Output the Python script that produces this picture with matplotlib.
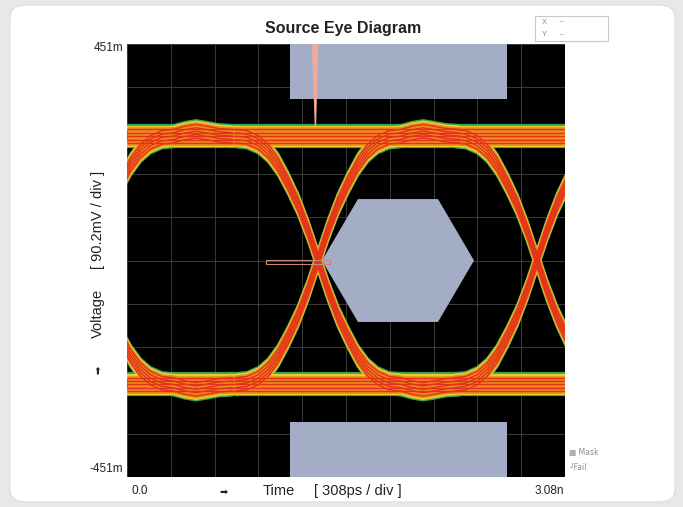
import numpy as np
import matplotlib
matplotlib.use("Agg")
import matplotlib.pyplot as plt
from matplotlib.patches import Polygon, Rectangle, FancyBboxPatch

plt.rcParams['font.family'] = ['Liberation Sans', 'DejaVu Sans']

# ---------------- data ----------------
title = "Source Eye Diagram"
t_min, t_max = 0.0, 3.08          # ns
v_min, v_max = -451.0, 451.0      # mV
n_div = 10
x_tick_labels = ["0.0", "3.08n"]
y_tick_labels = ["451m", "-451m"]
x_label = ["Time", "[ 308ps / div ]"]
y_label = ["Voltage", "[ 90.2mV / div ]"]

level_high = 259.0                # mV
level_low = -258.0                # mV
crossings = [-0.255, 1.343, 2.883]  # ns

# rising edge profile (time from crossing in ns, normalised level)
edge_dt = [-0.58, -0.50, -0.42, -0.35, -0.28, -0.21, -0.14, -0.07, 0.0,
           0.07, 0.14, 0.21, 0.28, 0.35, 0.42, 0.50, 0.58, 0.66, 0.74, 0.82, 0.90, 1.00]
edge_val = [-1.0, -0.99, -0.95, -0.88, -0.77, -0.62, -0.45, -0.24, 0.0,
            0.24, 0.45, 0.62, 0.77, 0.88, 0.95, 0.99, 1.0, 1.025, 1.04, 1.025, 1.008, 1.0]

# mask regions
mask_top_x = [1.146, 2.670]
mask_top_y = [336.0, 451.0]
mask_bot_x = [1.146, 2.670]
mask_bot_y = [-451.0, -336.0]
hex_x = [1.371, 1.624, 2.187, 2.440, 2.187, 1.624]
hex_y = [0.0, 128.0, 128.0, 0.0, -128.0, -128.0]

# histogram spike and window
spike_x = [1.300, 1.345, 1.330, 1.320]
spike_y = [451.0, 451.0, 280.0, 280.0]
window_x = [0.977, 1.430]
window_y = [-7.0, 1.0]

# trace band layers: offsets in mV
band_green = [-23, -21, -19, 19, 21, 23]
band_yellow = [-20, -18, -16, -14, 14, 16, 18, 20]
band_orange = [-16, -13, -10, -7, -4, -1, 2, 5, 8, 11, 14, 16]
band_red = [-14, -7, 0.0, 7, 14]

# ---------------- figure ----------------
W, H = 683, 507
fig = plt.figure(figsize=(W / 100, H / 100), dpi=100)
fig.patch.set_facecolor('#e8e8e8')
card = FancyBboxPatch((10 / W, 5 / H), 665 / W, 497 / H,
                      boxstyle="round,pad=0,rounding_size=0.025",
                      transform=fig.transFigure, facecolor='white',
                      edgecolor='#dcdcdc', linewidth=0.8, zorder=-10)
fig.patches.append(card)

ax = fig.add_axes([127 / W, 1 - 477 / H, 438 / W, 433 / H])
ax.set_zorder(5)
ax.set_facecolor('black')
ax.set_xlim(t_min, t_max)
ax.set_ylim(v_min, v_max)
ax.set_xticks(np.linspace(t_min, t_max, n_div + 1))
ax.set_yticks(np.linspace(v_min, v_max, n_div + 1))
ax.tick_params(length=0, labelbottom=False, labelleft=False)
ax.grid(True, color='#444444', linewidth=0.6)
ax.set_axisbelow(True)
for s in ax.spines.values():
    s.set_visible(False)

# masks
mask_col = '#a3aec6'
ax.add_patch(Rectangle((mask_top_x[0], mask_top_y[0]), mask_top_x[1] - mask_top_x[0],
                       mask_top_y[1] - mask_top_y[0], facecolor=mask_col, edgecolor='none', zorder=2))
ax.add_patch(Rectangle((mask_bot_x[0], mask_bot_y[0]), mask_bot_x[1] - mask_bot_x[0],
                       mask_bot_y[1] - mask_bot_y[0], facecolor=mask_col, edgecolor='none', zorder=2))
ax.add_patch(Polygon(np.column_stack([hex_x, hex_y]), closed=True,
                     facecolor=mask_col, edgecolor='none', zorder=2))

# traces
edt = np.array(edge_dt)
ev = np.array(edge_val)
mid = (level_high + level_low) / 2
amp = (level_high - level_low) / 2
curves = [(np.array([t_min, t_max]), np.array([level_high, level_high])),
          (np.array([t_min, t_max]), np.array([level_low, level_low]))]
for xc in crossings:
    curves.append((xc + edt, mid + amp * ev))
    curves.append((xc + edt, mid - amp * ev))

layers = [(band_green, '#3d9e55', 1.6),
          (band_yellow, '#e2d02a', 1.6),
          (band_orange, '#f08a1e', 1.8),
          (band_red, '#e2321a', 1.0)]
z = 3
for offs, col, lw in layers:
    o = np.array(offs, dtype=float)
    for x, y in curves:
        ax.plot(x, y[:, None] + o[None, :], color=col, lw=lw, zorder=z,
                solid_capstyle='butt')
    z += 0.1

# spike and window
ax.add_patch(Polygon(np.column_stack([spike_x, spike_y]), closed=True,
                     facecolor='#f4a898', edgecolor='none', zorder=4))
ax.add_patch(Rectangle((window_x[0], window_y[0]), window_x[1] - window_x[0],
                       window_y[1] - window_y[0], facecolor='none',
                       edgecolor='#c88878', linewidth=0.8, zorder=5))

# ---------------- texts ----------------
def px(x, y):
    return x / W, 1 - y / H

tc = '#222222'
fig.text(*px(343, 29), title, ha='center', va='center', fontsize=11.5,
         fontweight='bold', color=tc)
fig.text(*px(123, 48), y_tick_labels[0], ha='right', va='center', fontsize=8.5, color=tc)
fig.text(*px(123, 469), y_tick_labels[1], ha='right', va='center', fontsize=8.5, color=tc)
fig.text(*px(131, 491), x_tick_labels[0], ha='left', va='center', fontsize=8.5, color=tc)
fig.text(*px(564, 491), x_tick_labels[1], ha='right', va='center', fontsize=8.5, color=tc)

fig.text(*px(223, 492), "➡", ha='center', va='center', fontsize=7, color=tc,
         family=['DejaVu Sans'])
fig.text(*px(263, 491), x_label[0], ha='left', va='center', fontsize=10.5, color=tc)
fig.text(*px(314, 491), x_label[1], ha='left', va='center', fontsize=10.5, color=tc)

fig.text(*px(98, 370), "➡", ha='center', va='center', fontsize=7, color=tc,
         rotation=90, family=['DejaVu Sans'])
fig.text(*px(98, 313), y_label[0], ha='center', va='center', fontsize=10.5, color=tc,
         rotation=90)
fig.text(*px(98, 220), y_label[1], ha='center', va='center', fontsize=10.5, color=tc,
         rotation=90)

# legend at bottom right
fig.text(*px(569, 452), "▦ Mask", ha='left', va='center', fontsize=5.5, color='#8a8a8a',
         family=['DejaVu Sans'])
fig.text(*px(569, 468), "┘Fail", ha='left', va='center', fontsize=5.5, color='#8a8a8a',
         family=['DejaVu Sans'])

# readout box top right
fig.patches.append(Rectangle(px(535, 41), 73 / W, 25 / H, transform=fig.transFigure,
                             facecolor='white', edgecolor='#c8c8c8', linewidth=0.8))
fig.text(*px(542, 22), "X", ha='left', va='center', fontsize=5.5, color='#8a8a8a')
fig.text(*px(560, 22), "–", ha='left', va='center', fontsize=5.5, color='#8a8a8a')
fig.text(*px(542, 35), "Y", ha='left', va='center', fontsize=5.5, color='#8a8a8a')
fig.text(*px(560, 35), "–", ha='left', va='center', fontsize=5.5, color='#8a8a8a')

fig.savefig("out.png", dpi=100, facecolor=fig.get_facecolor())
